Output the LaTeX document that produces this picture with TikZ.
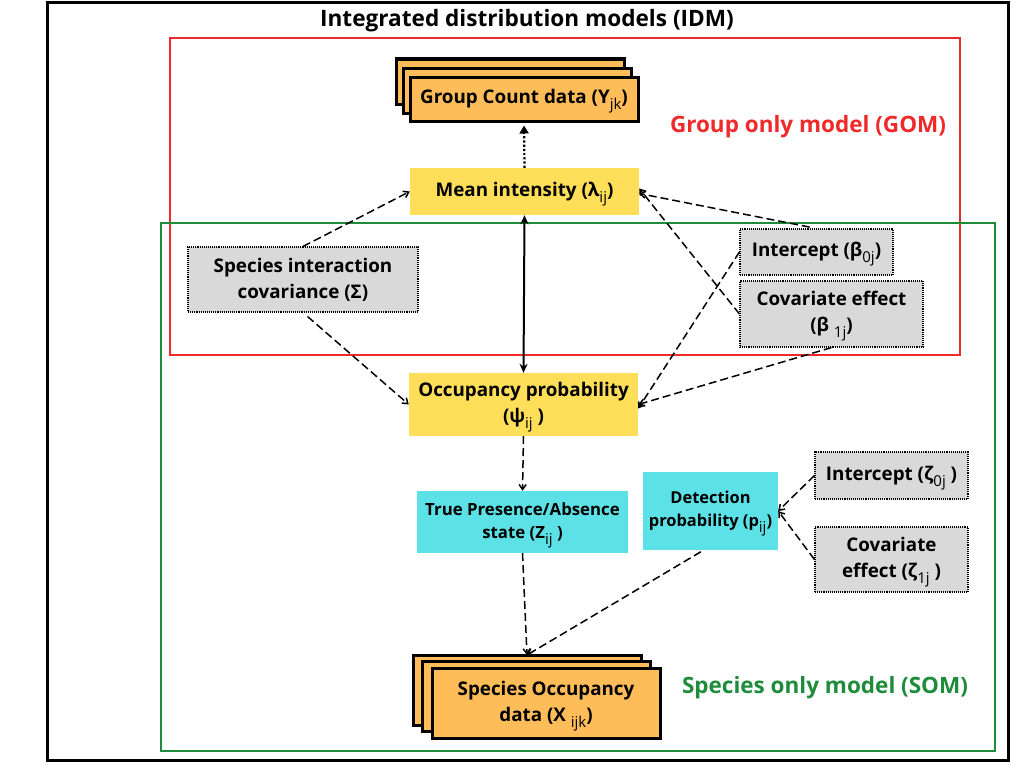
\documentclass[tikz,border=0pt]{standalone}
\usepackage{fontspec}
\setmainfont{Open Sans}
\usetikzlibrary{arrows.meta}
\definecolor{yboxc}{HTML}{FFDE59}
\definecolor{oboxc}{HTML}{FFBD59}
\definecolor{cboxc}{HTML}{5CE1E6}
\definecolor{gboxc}{HTML}{D9D9D9}
\definecolor{redc}{HTML}{EE2A2A}
\definecolor{greenc}{HTML}{1E8C3A}
\newcommand{\sbs}[1]{{\mdseries\fontsize{15}{15}\selectfont\raisebox{-0.4em}[0pt][0pt]{#1}}}
\tikzset{
  lbl/.style={font=\bfseries\fontsize{18.8}{26}\selectfont, align=center, inner sep=0pt},
  yb/.style={lbl, fill=yboxc, draw=none},
  cb/.style={lbl, fill=cboxc, draw=none},
  gb/.style={lbl, fill=gboxc, draw=black, densely dotted, line width=1.1pt},
  ob/.style={lbl, fill=oboxc, draw=black, line width=3pt},
  obs/.style={fill=oboxc, draw=black, line width=3pt},
  dsh/.style={draw=black, line width=1.5pt, dash pattern=on 8pt off 4pt, -{Straight Barb[length=5pt,width=7pt]}},
}
\begin{document}
\begin{tikzpicture}[x=1pt,y=-1pt]
\useasboundingbox (0,0) rectangle (1024,768);
\fill[white] (0,0) rectangle (1024,768);
% frames
\draw[black, line width=3pt] (47,3) rectangle (1008,760);
\draw[redc, line width=1.2pt] (170,38) rectangle (960,355);
\draw[greenc, line width=1.2pt] (161,223) rectangle (995,751);
\node[font=\bfseries\fontsize{22.6}{26}\selectfont, inner sep=0pt] (title) at (527,21) {Integrated distribution models (IDM)};
\node[font=\bfseries\fontsize{22.5}{26}\selectfont, text=redc, inner sep=0pt] (gom) at (808,127) {Group only model (GOM)};
\node[font=\bfseries\fontsize{22.5}{26}\selectfont, text=greenc, inner sep=0pt] (som) at (825,688) {Species only model (SOM)};
% group count stack
\draw[obs] (396,59) rectangle (624,104);
\draw[obs] (403,68) rectangle (631,113);
\node[ob, minimum width=228, minimum height=44] (gc) at (524,99) {Group Count data (Y\sbs{jk})};
% species occupancy stack
\draw[obs] (413,655) rectangle (641,725);
\draw[obs] (422,661) rectangle (650,731);
\node[ob, minimum width=228, minimum height=70] (so) at (546,703) {Species Occupancy\\data (X \sbs{ijk})};
\coordinate (sotop) at (527,655);
% boxes
\node[yb, minimum width=229, minimum height=47] (mean) at (524.5,191.5) {Mean intensity (λ\sbs{ij})};
\node[gb, minimum width=230, minimum height=65] (sic) at (303,279.5) {Species interaction\\covariance (Σ)};
\node[gb, minimum width=153, minimum height=46] (b0) at (816.5,252) {Intercept (β\sbs{0j})};
\node[gb, minimum width=183, minimum height=66] (b1) at (831.5,314) {Covariate effect\\(β \sbs{1j})};
\node[yb, minimum width=229, minimum height=63] (occ) at (523.5,404.5) {Occupancy probability\\(ψ\sbs{ij} )};
\node[cb, font=\bfseries\fontsize{16.8}{23}\selectfont, minimum width=211, minimum height=62] (tpa) at (522.5,522) {True Presence/Absence\\state (Z\sbs{ij} )};
\node[cb, font=\bfseries\fontsize{16.4}{23}\selectfont, minimum width=135, minimum height=78] (det) at (710.5,511) {Detection\\probability (p\sbs{ij})};
\node[gb, minimum width=153, minimum height=47] (z0) at (891.5,475.5) {Intercept (ζ\sbs{0j} )};
\node[gb, minimum width=153, minimum height=65] (z1) at (891.5,559.5) {Covariate\\effect (ζ\sbs{1j} )};
% connectors
\draw[black, line width=2.2pt, dotted, -{Triangle[length=8pt,width=9pt]}, shorten >=3pt] (mean.north) -- (gc.south);
\draw[black, line width=2pt, {Stealth[length=9pt,width=8pt]}-{Stealth[length=9pt,width=8pt]}] (mean.south) -- (occ.north);
\draw[dsh] (sic.north) -- (mean.west);
\draw[dsh, shorten <=6pt] (sic.south) -- (occ.west);
\draw[dsh, shorten <=7pt] (b0.north) -- ([yshift=-2pt]mean.east);
\draw[dsh] (b1.west) -- ([yshift=3pt]mean.east);
\draw[dsh] (b0.west) -- ([yshift=-4pt]occ.east);
\draw[dsh] (b1.south) -- (occ.east);
\draw[dsh] (occ.south) -- (tpa.north);
\draw[dsh] (tpa.south) -- (sotop);
\draw[dsh, shorten <=3pt] ([xshift=-7pt]det.south) -- (sotop);
\draw[dsh] (z0.west) -- (det.east);
\draw[dsh] (z1.west) -- (det.east);
\end{tikzpicture}
\end{document}
